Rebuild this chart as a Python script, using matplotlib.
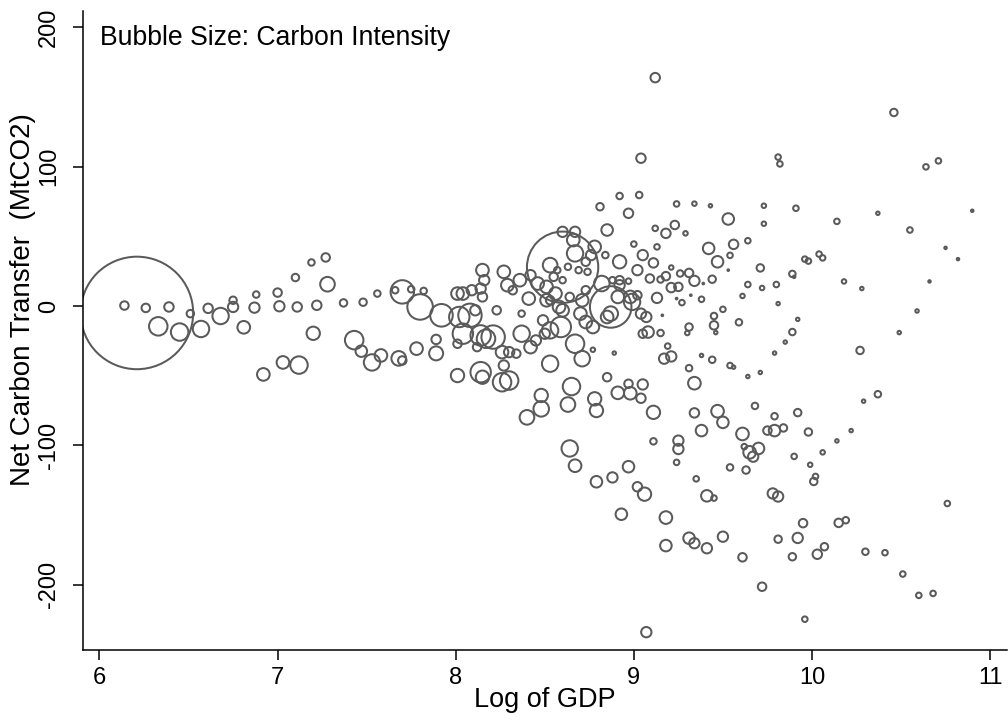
import matplotlib.pyplot as plt
import numpy as np

# Log of GDP (x), net carbon transfer in MtCO2 (y), carbon intensity (bubble weight)
log_gdp = [
    6.21, 6.14, 6.26, 6.39, 6.33, 6.45, 6.51, 6.57, 6.61, 6.68, 6.75, 6.75, 6.81, 6.87, 6.88,
    7.00, 7.01, 7.10, 7.11, 7.19, 7.27, 7.28, 7.22, 7.20, 6.92, 7.03, 7.12, 7.37, 7.48, 7.56,
    7.43, 7.47, 7.53, 7.58, 7.70, 7.66, 7.75, 7.82, 7.80, 7.92, 8.01, 8.04, 8.02, 8.08, 8.11,
    8.15, 8.16, 8.14, 8.15, 7.89, 8.01, 8.04, 8.14, 8.17, 8.21, 7.78, 7.89, 7.68, 7.70, 8.12,
    8.26, 8.30, 8.34, 8.27, 8.37, 8.42, 8.50, 8.53, 8.53, 8.01, 8.14, 8.15, 8.26, 8.30, 8.48,
    8.48, 8.40, 8.65, 8.63, 8.71, 8.77, 8.78, 8.79, 8.64, 8.67, 8.79, 8.88, 8.97, 9.02, 9.06,
    8.93, 9.18, 9.18, 9.07, 8.85, 8.89, 8.91, 8.97, 8.98, 9.05, 9.04, 9.11, 9.17, 9.21, 9.11,
    9.25, 9.25, 9.24, 8.27, 8.29, 8.36, 8.42, 8.53, 8.57, 8.60, 8.46, 8.32, 8.09, 8.37, 8.23,
    8.41, 8.51, 8.49, 8.58, 8.45, 8.55, 8.60, 8.60, 8.67, 8.85, 8.66, 9.00, 8.78, 8.67, 8.76,
    8.84, 8.92, 9.05, 9.02, 8.63, 8.69, 8.74, 8.51, 8.56, 8.53, 8.64, 8.73, 8.82, 8.88, 8.92,
    8.97, 8.91, 8.98, 9.02, 8.71, 8.87, 8.60, 8.70, 8.59, 8.77, 8.85, 9.04, 9.05, 8.73, 8.67,
    9.04, 8.92, 9.03, 8.81, 8.97, 9.24, 9.34, 9.43, 9.53, 9.12, 9.18, 9.23, 9.29, 9.13, 9.42,
    9.56, 9.64, 9.54, 9.47, 9.53, 9.71, 9.11, 9.21, 9.26, 9.31, 9.34, 9.44, 9.09, 9.15, 9.18,
    9.21, 9.25, 9.39, 9.32, 9.24, 9.27, 9.38, 9.13, 9.64, 9.72, 9.61, 9.80, 9.81, 9.50, 9.45,
    9.45, 9.59, 9.46, 9.31, 9.30, 9.16, 9.15, 9.07, 9.08, 8.99, 8.92, 8.87, 8.73, 9.19, 9.38,
    9.44, 9.31, 9.54, 9.56, 9.64, 9.71, 9.79, 10.27, 9.34, 9.34, 9.47, 9.50, 9.38, 9.61, 9.62,
    9.65, 9.67, 9.70, 9.68, 9.79, 9.92, 9.75, 9.79, 9.84, 9.98, 9.90, 9.99, 10.06, 10.14, 10.22,
    10.29, 10.37, 9.54, 9.63, 9.35, 9.41, 9.45, 9.78, 9.81, 10.01, 10.02, 9.31, 9.34, 9.41, 9.50,
    9.61, 9.72, 9.81, 9.92, 9.95, 9.89, 10.03, 10.07, 10.15, 10.19, 10.30, 10.41, 10.51, 10.60, 10.68,
    10.76, 9.96, 9.12, 10.46, 9.81, 9.82, 10.64, 10.71, 9.73, 9.73, 9.91, 10.14, 10.37, 10.55, 10.90,
    10.75, 10.82, 9.89, 9.90, 9.96, 9.98, 10.04, 10.06, 10.18, 10.28, 10.66, 9.92, 9.89, 9.85, 10.49,
    10.59,
]
net_transfer = [
    -5.0, 0.3, -1.4, -0.7, -14.6, -18.7, -5.5, -16.5, -1.7, -7.2, 4.1, -0.7, -15.3, -1.2, 8.2,
    9.6, -0.2, 20.4, -0.7, 31.2, 34.8, 15.6, 0.5, -19.6, -49.1, -40.5, -42.4, 2.2, 2.7, 8.9,
    -24.5, -32.4, -40.5, -35.5, 10.1, 11.3, 12.0, 10.8, -0.7, -6.7, 8.9, 8.9, -7.9, -6.7, -3.1,
    25.7, 18.5, 12.5, 6.5, -24.0, -27.1, -19.9, -21.1, -23.5, -22.3, -30.6, -34.0, -37.6, -39.1, -29.5,
    -33.1, -33.1, -34.2, -42.7, -19.9, -29.5, -19.9, -17.5, -41.4, -49.9, -47.5, -51.1, -54.7, -53.5, -64.2,
    -73.8, -79.9, -57.8, -70.7, -37.8, -31.4, -66.6, -75.0, -102.2, -114.6, -126.1, -123.0, -115.3, -129.7, -135.0,
    -149.4, -151.8, -171.9, -234.0, -51.1, -33.8, -62.3, -55.8, -62.6, -56.3, -66.2, -76.3, -37.8, -36.2, -97.1,
    -96.6, -102.6, -112.2, 24.5, 14.9, 18.5, 22.1, 29.3, 25.7, 18.5, 16.1, 11.3, 11.3, -5.5, -3.1,
    5.3, 4.1, -10.3, -0.7, -24.7, 20.9, 27.8, 53.2, 53.2, 54.5, 47.3, 44.4, 42.4, 37.7, 36.5,
    36.5, 31.7, 36.5, 25.7, 28.1, 25.7, 24.5, 13.7, 8.9, 4.1, 6.5, 11.3, 16.1, 18.5, 18.5,
    17.8, 6.5, 6.5, 7.7, 4.1, -0.7, -3.1, -5.5, -15.1, -15.1, -7.9, -5.5, -19.9, -11.5, -27.1,
    106.0, 78.9, 79.6, 71.2, 66.5, 73.2, 73.4, 71.9, 62.4, 55.7, 52.1, 58.1, 52.1, 42.4, 41.3,
    44.2, 46.8, 36.3, 31.7, 25.7, 27.3, 30.9, 27.6, 23.3, 23.7, 18.0, 19.2, 19.7, 19.0, 21.4,
    13.2, 13.7, 16.1, 7.7, 5.3, 2.4, 4.8, 5.8, 15.4, 12.9, 7.2, 15.4, 1.7, -2.4, -7.2,
    -13.9, -11.7, -19.1, -15.1, -19.4, -6.7, -19.4, -7.9, -18.7, 2.9, 14.9, -5.5, 31.7, -28.8, -35.5,
    -38.6, -44.6, -42.7, -43.9, -50.6, -47.7, -33.8, -31.9, -55.4, -76.7, -75.5, -83.5, -89.4, -91.8, -100.9,
    -105.0, -108.1, -102.2, -71.7, -79.1, -76.5, -89.4, -89.4, -87.5, -90.4, -107.9, -113.9, -105.0, -96.8, -89.4,
    -68.3, -63.3, -115.8, -117.7, -124.0, -136.2, -137.8, -134.5, -136.7, -125.9, -122.3, -166.6, -170.2, -173.8, -165.5,
    -180.3, -201.4, -167.3, -166.4, -155.8, -179.9, -178.1, -172.7, -155.6, -153.7, -176.3, -177.0, -192.3, -207.6, -206.2,
    -141.7, -224.7, 163.8, 138.8, 106.8, 101.9, 99.8, 104.1, 71.9, 59.0, 70.1, 60.7, 66.5, 54.5, 68.3,
    41.7, 33.6, 23.0, 20.9, 33.6, 32.2, 37.2, 34.5, 17.6, 12.5, 17.6, -9.6, -18.7, -25.9, -19.1,
    -3.6,
]
carbon_intensity = [
    130, 1.0, 1.0, 1.2, 4.0, 3.6, 0.8, 3.2, 1.2, 3.2, 0.8, 1.4, 2.0, 1.4, 0.64,
    1.0, 1.4, 0.8, 1.2, 0.64, 1.0, 2.6, 1.2, 2.2, 2.0, 2.0, 3.6, 0.8, 0.8, 0.64,
    4.0, 1.7, 3.2, 2.0, 6.2, 0.64, 0.64, 0.64, 7.3, 5.8, 2.0, 2.0, 4.8, 6.2, 1.4,
    2.0, 1.4, 1.4, 1.2, 1.2, 1.0, 4.8, 4.8, 4.0, 6.2, 2.0, 2.4, 2.6, 1.0, 1.0,
    2.0, 1.4, 1.0, 1.4, 3.2, 2.0, 1.4, 3.2, 3.2, 2.2, 4.8, 2.2, 4.0, 4.0, 2.2,
    2.9, 2.6, 3.6, 2.6, 2.9, 0.36, 2.2, 2.2, 3.2, 2.0, 1.7, 1.4, 1.7, 1.2, 2.2,
    1.7, 2.0, 1.7, 1.4, 1.0, 0.25, 2.0, 1.0, 2.0, 1.4, 1.2, 2.2, 1.4, 1.4, 0.64,
    1.4, 1.4, 0.5, 2.0, 2.0, 2.0, 1.4, 2.6, 0.64, 0.64, 2.0, 1.0, 1.4, 0.64, 1.0,
    2.0, 2.0, 1.4, 2.0, 1.4, 1.0, 53, 1.4, 1.4, 1.7, 2.0, 0.5, 2.0, 3.2, 1.4,
    0.64, 2.2, 1.4, 1.4, 0.64, 0.64, 0.64, 2.0, 2.0, 1.0, 1.0, 1.0, 2.9, 0.64, 1.0,
    0.5, 2.0, 2.0, 1.0, 2.0, 18.5, 2.0, 2.0, 4.8, 2.0, 2.0, 1.4, 1.0, 2.0, 4.0,
    1.2, 0.64, 0.64, 0.8, 1.2, 0.5, 0.36, 0.25, 1.7, 0.5, 1.2, 1.0, 0.36, 0.5, 1.7,
    1.2, 0.5, 0.5, 1.7, 0.1, 0.8, 1.2, 0.36, 0.64, 1.0, 1.4, 0.8, 1.0, 0.64, 1.0,
    1.2, 1.0, 0.1, 0.1, 0.1, 0.5, 0.5, 1.4, 0.5, 0.36, 0.36, 0.5, 0.25, 0.5, 0.64,
    1.0, 0.64, 0.25, 0.8, 0.36, 0.1, 0.64, 1.4, 1.7, 3.2, 1.4, 2.6, 1.0, 0.5, 0.25,
    0.64, 0.64, 0.5, 0.25, 0.25, 0.25, 0.25, 0.8, 2.0, 1.2, 2.0, 1.7, 1.7, 2.0, 0.5,
    2.0, 1.4, 1.7, 0.64, 0.64, 0.8, 1.0, 1.7, 0.8, 0.8, 0.5, 0.36, 0.36, 0.25, 0.25,
    0.25, 0.64, 0.64, 0.8, 0.5, 1.7, 0.5, 1.4, 1.4, 0.8, 0.5, 1.7, 1.4, 1.4, 1.4,
    1.0, 1.0, 0.8, 1.4, 1.0, 0.8, 1.2, 0.8, 1.0, 0.64, 0.64, 0.5, 0.5, 0.5, 0.5,
    0.5, 0.5, 1.2, 0.8, 0.5, 0.5, 0.5, 0.5, 0.36, 0.36, 0.5, 0.5, 0.25, 0.5, 0.16,
    0.16, 0.16, 0.64, 0.16, 0.5, 0.5, 0.5, 0.5, 0.36, 0.25, 0.16, 0.25, 0.64, 0.25, 0.25,
    0.25,
]

plt.rcParams['font.family'] = ['Liberation Sans', 'DejaVu Sans']

fig = plt.figure(figsize=(10.08, 7.24), dpi=100)
ax = fig.add_axes([0.0828, 0.1022, 0.9162, 0.8826])

# bubble area proportional to carbon intensity
diam_px = np.sqrt(np.array(carbon_intensity)) * 10 - 1.5
ax.scatter(log_gdp, net_transfer, s=(diam_px * 0.72) ** 2, facecolors='none',
           edgecolors='#5a5a5a', linewidths=1.45)

ax.set_xlim(5.91, 11.095)
ax.set_ylim(-246.8, 211.6)
ax.set_xticks(range(6, 12))
ax.set_yticks([-200, -100, 0, 100, 200])
ax.set_yticklabels(['-200', '-100', '0', '100', '200'], rotation=90, va='center')
ax.tick_params(length=7.5, width=1.1, labelsize=17, direction='out')
ax.tick_params(axis='x', pad=4.5)
ax.tick_params(axis='y', pad=9.5)

for side in ['top', 'right']:
    ax.spines[side].set_visible(False)
for side in ['left', 'bottom']:
    ax.spines[side].set_linewidth(1.1)

ax.set_xlabel('Log of GDP', fontsize=19.5)
ax.xaxis.set_label_coords(0.5, -0.058)
ax.set_ylabel('Net Carbon Transfer  (MtCO2)', fontsize=20)
ax.yaxis.set_label_coords(-0.051, 0.549)

ax.text(0.018, 0.978, 'Bubble Size: Carbon Intensity', transform=ax.transAxes,
        fontsize=19.2, ha='left', va='top')

fig.savefig('out.png', dpi=100)
